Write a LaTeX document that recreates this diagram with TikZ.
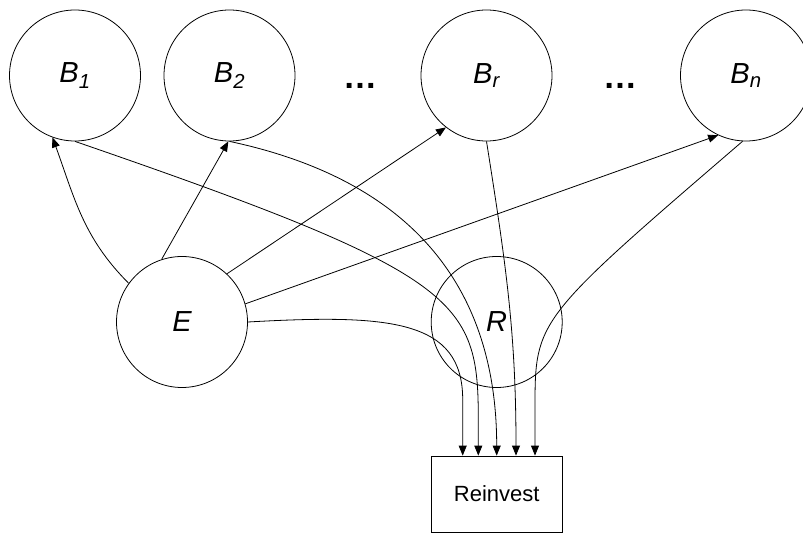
\documentclass[tikz,border=0pt]{standalone}
\usepackage{fontspec}
\setmainfont{Liberation Sans}
\usetikzlibrary{arrows.meta,positioning}

\begin{document}
\begin{tikzpicture}[
  >={Triangle[length=10pt,width=8pt]},
  line width=0.8pt,
  node distance=2cm,
  bubble/.style={draw, circle, minimum size=131pt, inner sep=0pt,
    font=\fontsize{29}{33}\selectfont\itshape},
  ellip/.style={font=\fontsize{34}{38}\selectfont\bfseries, inner sep=0pt}]
\useasboundingbox (0,0) rectangle (803pt,-534pt);
% Define nodes
\node[bubble] (B1) at (75pt,-75.5pt) {B\textsubscript{1}};
\node[bubble, right of=B1, node distance=154.5pt] (B2) {B\textsubscript{2}};
\node[ellip, right of=B2, node distance=130.5pt, yshift=-10pt] (dots1) {…};
\node[bubble, right of=B2, node distance=257pt] (Br) {B\textsubscript{r}};
\node[ellip, right of=Br, node distance=133.5pt, yshift=-10pt] (dots2) {…};
\node[bubble, right of=Br, node distance=259.5pt] (Bn) {B\textsubscript{n}};
\node[bubble] (E) at (182pt,-322pt) {E};
\node[bubble, right of=E, node distance=314.7pt] (R) {R};
\node[draw, rectangle, minimum width=131pt, minimum height=76pt, below of=R, node distance=172pt, font=\fontsize{22}{26}\selectfont] (reinvest) {Reinvest};

% Draw arrows
\draw[->] (E.144) to[out=135, in=-70] (B1.250);
\draw[->] (E.108) -- (B2.269);
\draw[->] (E.47) -- (Br.232);
\draw[->] (E.16) -- (Bn.245);

% everything flows into Reinvest
\draw[->] (E.east) .. controls +(142pt,8pt) and +(0,80pt) .. ([xshift=-34pt,yshift=56pt]reinvest.north) -- ([xshift=-34pt]reinvest.north);
\draw[->] (B1.south) .. controls +(-19:408pt) and +(0,120pt) .. ([xshift=-18.4pt,yshift=36pt]reinvest.north) -- ([xshift=-18.4pt]reinvest.north);
\draw[->] (B2.south) .. controls +(-12:200pt) and +(0,155pt) .. (reinvest.north);
\draw[->] (Br.south) to[out=-81, in=90] ([xshift=19.3pt]reinvest.north);
\draw[->] (Bn.267) .. controls +(-208pt,-179pt) and +(0,90pt) .. ([xshift=38.3pt,yshift=46pt]reinvest.north) -- ([xshift=38.3pt]reinvest.north);
\end{tikzpicture}
\end{document}
